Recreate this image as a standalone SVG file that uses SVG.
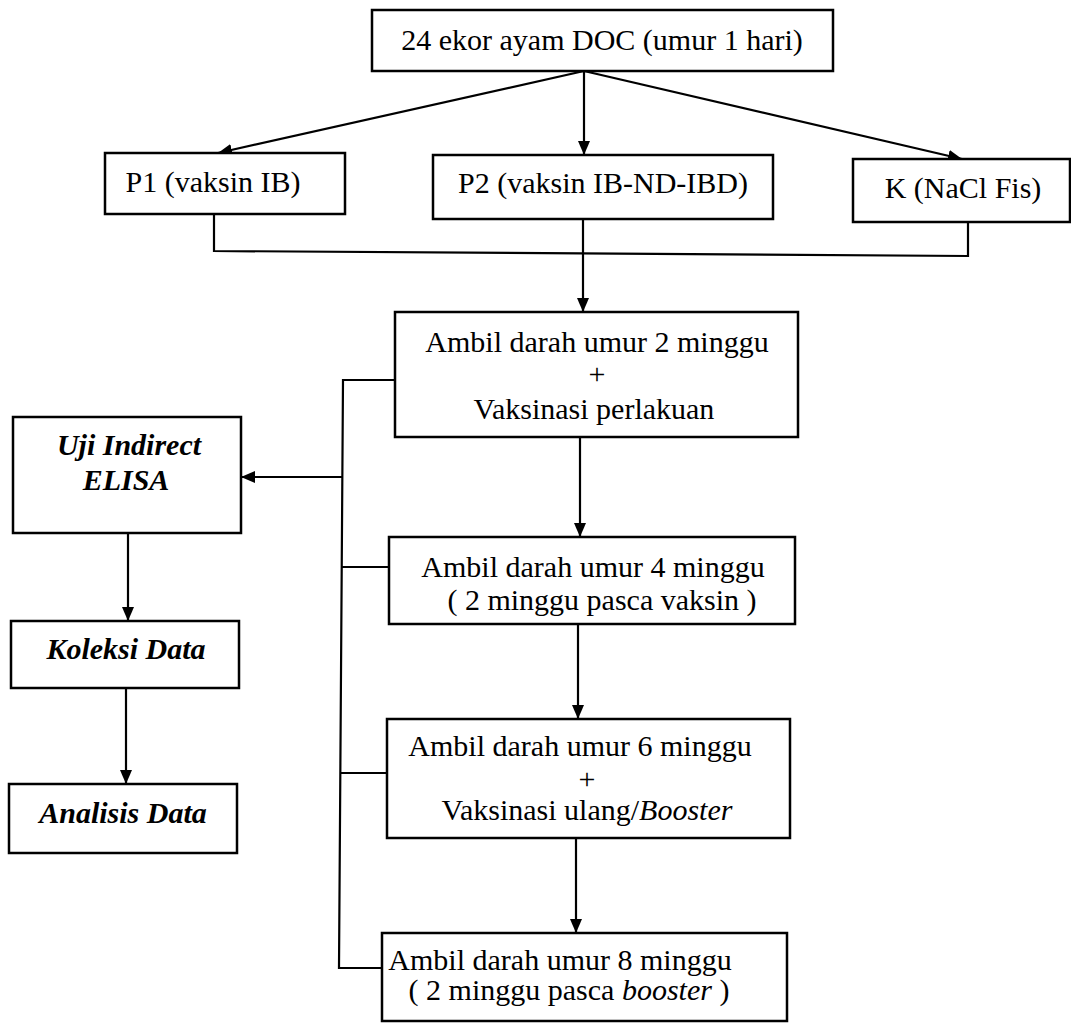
<svg xmlns="http://www.w3.org/2000/svg" width="1071" height="1023" viewBox="0 0 1071 1023">
<defs>
<marker id="ah" markerUnits="userSpaceOnUse" markerWidth="14" markerHeight="12" refX="14" refY="6" orient="auto">
<path d="M0,0 L14,6 L0,12 z" fill="#000"/>
</marker>
<style>
.box{fill:#fff;stroke:#000;stroke-width:2.5}
.t{font-family:"Liberation Serif","Times New Roman",serif;font-size:30px;fill:#000;text-anchor:middle}
.bi{font-weight:bold;font-style:italic}
.c{fill:none;stroke:#000;stroke-width:2.2}
.a{marker-end:url(#ah)}
</style>
</defs>
<rect width="1071" height="1023" fill="#fff"/>
<g id="connectors">
<line class="c a" x1="584" y1="71" x2="218" y2="153"/>
<line class="c a" x1="584" y1="71" x2="584" y2="155"/>
<line class="c a" x1="584" y1="71" x2="962" y2="159"/>
<polyline class="c" points="214,214 214,251 968,256 968,222"/>
<line class="c a" x1="583" y1="219" x2="583" y2="312"/>
<line class="c a" x1="580" y1="437" x2="580" y2="537"/>
<line class="c a" x1="578" y1="624" x2="578" y2="719"/>
<line class="c a" x1="576" y1="838" x2="576" y2="933"/>
<polyline class="c" points="395,380 343,380 339,968 382,968"/>
<line class="c" x1="342" y1="567" x2="389" y2="567"/>
<line class="c" x1="340" y1="773" x2="387" y2="773"/>
<line class="c a" x1="343" y1="477" x2="241" y2="477"/>
<line class="c a" x1="128" y1="533" x2="128" y2="621"/>
<line class="c a" x1="126" y1="688" x2="126" y2="784"/>
</g>
<g id="n-top"><rect class="box" x="372" y="10" width="461" height="61"/><text class="t" x="602" y="50">24 ekor ayam DOC (umur 1 hari)</text></g>
<g id="n-p1"><rect class="box" x="105" y="153" width="240" height="61"/><text class="t" x="213" y="192">P1 (vaksin IB)</text></g>
<g id="n-p2"><rect class="box" x="433" y="155" width="340" height="64"/><text class="t" x="603" y="193">P2 (vaksin IB-ND-IBD)</text></g>
<g id="n-k"><rect class="box" x="853" y="159" width="217" height="63"/><text class="t" x="963" y="198">K (NaCl Fis)</text></g>
<g id="n-ambil2"><rect class="box" x="395" y="312" width="403" height="125"/>
<text class="t" x="597" y="352">Ambil darah umur 2 minggu</text>
<text class="t" x="597" y="384">+</text>
<text class="t" x="594" y="419">Vaksinasi perlakuan</text></g>
<g id="n-ambil4"><rect class="box" x="389" y="537" width="406" height="87"/>
<text class="t" x="593" y="577">Ambil darah umur 4 minggu</text>
<text class="t" x="602" y="610">( 2 minggu pasca vaksin )</text></g>
<g id="n-ambil6"><rect class="box" x="387" y="719" width="403" height="119"/>
<text class="t" x="580" y="756">Ambil darah umur 6 minggu</text>
<text class="t" x="587" y="789">+</text>
<text class="t" x="587" y="820">Vaksinasi ulang/<tspan font-style="italic">Booster</tspan></text></g>
<g id="n-ambil8"><rect class="box" x="382" y="933" width="405" height="88"/>
<text class="t" x="560" y="970">Ambil darah umur 8 minggu</text>
<text class="t" x="569" y="1000">( 2 minggu pasca <tspan font-style="italic">booster</tspan> )</text></g>
<g id="n-elisa"><rect class="box" x="13" y="417" width="228" height="116"/>
<text class="t bi" x="129" y="455">Uji Indirect</text>
<text class="t bi" x="126" y="490">ELISA</text></g>
<g id="n-koleksi"><rect class="box" x="11" y="621" width="228" height="67"/>
<text class="t bi" x="126" y="659">Koleksi Data</text></g>
<g id="n-analisis"><rect class="box" x="9" y="784" width="228" height="69"/>
<text class="t bi" x="123" y="823">Analisis Data</text></g>
</svg>
